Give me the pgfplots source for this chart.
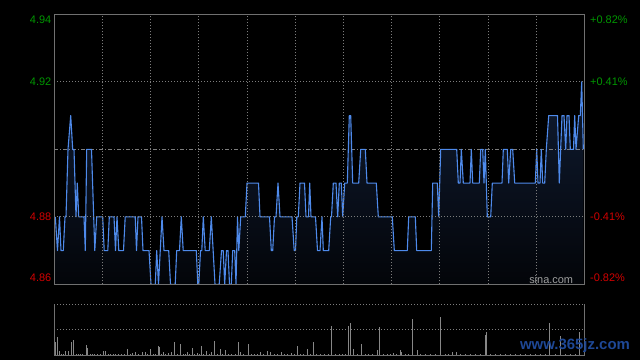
\documentclass[border=0pt]{standalone}
\usepackage{pgfplots}
\pgfplotsset{compat=1.18}
\usepackage{pgfplotstable}
\usepackage{fontspec}
\setmainfont{Liberation Sans}
\definecolor{upg}{RGB}{0,150,0}
\definecolor{dnr}{RGB}{210,0,0}
\definecolor{gridc}{RGB}{125,125,125}
\definecolor{framec}{RGB}{112,112,112}
\definecolor{linec}{RGB}{78,138,235}
\definecolor{filltop}{RGB}{16,28,50}
\definecolor{fillbot}{RGB}{3,5,9}
\definecolor{volc}{RGB}{135,135,135}
\definecolor{wmblue}{RGB}{30,72,150}

% price: x in screen position (px), converted to trading minutes in the plot
\pgfplotstableread{
px p
55.3 4.88
57.5 4.87
59.5 4.88
61 4.87
63.3 4.87
65 4.88
66 4.88
68 4.90
70.7 4.91
72.7 4.90
74 4.90
76 4.88
77.3 4.89
78.7 4.88
84 4.88
85.3 4.87
86.7 4.90
91.5 4.90
94.8 4.87
96.7 4.88
102.7 4.88
104.2 4.87
107.8 4.87
109.3 4.88
114 4.88
115.5 4.87
117 4.88
118.8 4.87
123.5 4.87
125.2 4.88
135.2 4.88
136.5 4.87
138 4.88
141.5 4.88
143 4.87
149 4.87
151 4.86
155.3 4.86
156.7 4.87
158.5 4.86
162 4.88
164 4.87
168.7 4.87
170.5 4.86
175.2 4.86
176.7 4.87
179.5 4.87
181.3 4.88
183.2 4.87
196.3 4.87
197.8 4.86
198.8 4.86
200.5 4.87
201.8 4.87
203.3 4.88
205.2 4.87
209.3 4.87
211.3 4.88
215 4.86
219.2 4.86
221.5 4.87
223.2 4.87
224.7 4.86
226.5 4.87
228 4.87
229.5 4.86
231.3 4.86
232.7 4.87
234.7 4.87
236 4.86
237.5 4.88
238.8 4.87
240.7 4.88
245.3 4.88
247 4.89
258.5 4.89
260 4.88
269.5 4.88
271.3 4.87
272.7 4.87
274.5 4.88
276 4.88
278 4.89
280 4.88
292 4.88
294.2 4.87
295.5 4.87
296.8 4.88
298.3 4.88
300 4.89
304.5 4.89
306 4.88
308.5 4.88
309.7 4.89
311 4.88
315.5 4.88
317.5 4.87
320 4.87
322 4.88
323.3 4.87
328.7 4.87
330.7 4.88
331.5 4.88
333.3 4.89
336 4.89
337.7 4.88
339.3 4.89
341.3 4.89
342.7 4.88
344.7 4.89
347.3 4.89
349.3 4.91
350.7 4.91
352.7 4.89
358.7 4.89
360.7 4.90
365.3 4.90
367 4.89
376.3 4.89
378.3 4.88
392.3 4.88
394.3 4.87
407.3 4.87
408.7 4.88
415.3 4.88
416.7 4.87
431.3 4.87
432.7 4.89
437.3 4.89
438.7 4.88
440.7 4.90
456.7 4.90
458.3 4.89
460 4.89
461.3 4.90
463.3 4.89
470 4.89
471.3 4.90
472.7 4.89
479.3 4.89
480.7 4.90
482.7 4.90
484 4.89
485.3 4.90
487.3 4.88
490.7 4.88
492.3 4.89
502 4.89
503.3 4.90
507.3 4.90
508.7 4.89
510.7 4.90
512.7 4.90
514.7 4.89
535.3 4.89
536.7 4.90
538 4.89
540 4.89
541.3 4.90
542.7 4.89
544.7 4.89
546.3 4.90
548.7 4.91
557.5 4.91
559.3 4.89
562 4.91
564 4.91
565.7 4.90
567 4.91
569 4.91
570.3 4.90
573.5 4.90
574.7 4.91
576 4.90
578.7 4.91
580.3 4.91
581.7 4.92
583.3 4.90
}\price

\pgfplotstableread{
px v
55 13.3
57.3 18
59.3 4
61 1
63 1
65.3 4
68.3 4
71.3 13
73.3 15
76 1
78 1
80 1
82 1.5
86.3 10
87.3 7
90 1
92 1
94.3 1.5
97 1
100 1
103.3 4
105.3 4
108 1
110 1
113.3 1.5
115 1
118.3 1.5
121 1
124 1
127.3 6
130 1
132.7 2
135.3 3
138 1
142.3 3
145.3 3
147 1
150.3 6
153 1
155 1
158.3 9
159.3 8
161 1
163.3 3
165 1
168.3 2
171.3 3
174.3 13
177 1
180.3 11
183 1
185 1
187.3 3
189 1
192.3 7
194 1
197.3 2
199 1
201.3 9
203 1
206.3 4
209 1
211.3 3
214.3 14
217 1
220.3 6
222 1
225.3 5
228 1
231 1
235 1
238.3 13
240.3 3
243 1
248.3 11
251 1
254 1
257 1
260.3 3
263 1
267.3 4
270.3 3
274 1
277 1
281.3 3
284 1
287 1
291.3 2
294 1
297.3 9
300 1
303 1
307.3 6
310 1
313.3 13
316 1
320 1
324 1
328 1
331.7 29
335 1
339 1
342 1
345 1
348 29
350.3 32
353.3 6
357 1
361.3 11
365 1
368 1
372 1
377.3 5
379.3 28
383 1
387 1
390 1
393.3 2
396 1
400.3 5
401.3 3
405 1
408 1
412.3 36
417.3 5
420 1
425 1
430 1
435 1
440.3 38
445 1
448 1
452.3 3
456.3 3
460 1
465 1
470 1
475 1
480 1
485.3 20
486.3 23
490 1
495 1
500 1
505 1
510 1
515 1
520 1
525 1
530 1
535 1
540 1
545 1
549.3 32
555 1
560.3 19
565 1
570 1
575 1
579.3 23
}\volume

\begin{document}
\begin{tikzpicture}[x=1bp,y=1bp]
\useasboundingbox (0,0) rectangle (640,360);
\fill[black] (0,0) rectangle (640,360);

\begin{axis}[
  at={(54.3bp,75.7bp)}, anchor=south west,
  width=530bp, height=270bp, scale only axis,
  xmin=0, xmax=330, ymin=4.86, ymax=4.94,
  xtick={30,60,...,300}, ytick={4.88,4.92},
  xticklabels={}, yticklabels={},
  major tick length=0pt,
  grid=major,
  grid style={draw=gridc, line width=0.8bp, dash pattern=on 1bp off 2bp},
  axis line style={draw=framec, line width=0.8bp},
  axis on top,
  clip=true,
]
\addplot[draw=none, top color=filltop, bottom color=fillbot]
  table[x expr=(\thisrow{px}-54.3)*0.62264, y=p] {\price} \closedcycle;
\addplot[draw=gridc, line width=0.8bp, dash pattern=on 4bp off 2bp on 1bp off 2bp]
  coordinates {(0,4.90) (330,4.90)};
\addplot[draw=linec, line width=1.1bp, line join=round]
  table[x expr=(\thisrow{px}-54.3)*0.62264, y=p] {\price};
\end{axis}

\begin{axis}[
  at={(54.3bp,5bp)}, anchor=south west,
  width=530bp, height=50.7bp, scale only axis,
  xmin=0, xmax=330, ymin=0, ymax=50.7,
  xtick=\empty, ytick=\empty,
  axis line style={draw=none},
  clip=true,
]
\addplot[ycomb, draw=volc, line width=0.9bp, mark=none]
  table[x expr=(\thisrow{px}-54.3)*0.62264, y=v] {\volume};
\end{axis}

% volume panel frame and grid
\draw[gridc, line width=0.8bp, dash pattern=on 1bp off 2bp] (54.3,55.7) -- (584.3,55.7);
\draw[gridc, line width=0.8bp, dash pattern=on 1bp off 2bp] (54.3,30.3) -- (584.3,30.3);
\draw[framec, line width=0.8bp] (54.3,55.7) -- (54.3,5) -- (584.3,5) -- (584.3,55.7);

% labels
\begin{scope}[every node/.style={font=\fontsize{11}{13}\selectfont, inner sep=0pt}]
\node[anchor=east, text=upg] at (51.5,339.8) {4.94};
\node[anchor=east, text=upg] at (51.5,278) {4.92};
\node[anchor=east, text=dnr] at (51.5,143) {4.88};
\node[anchor=east, text=dnr] at (51.5,82) {4.86};
\node[anchor=west, text=upg] at (590,339.8) {+0.82\%};
\node[anchor=west, text=upg] at (590,278) {+0.41\%};
\node[anchor=west, text=dnr] at (590,143) {-0.41\%};
\node[anchor=west, text=dnr] at (590,82) {-0.82\%};
\node[anchor=east, text=gray!75] at (573.3,80.8) {sina.com};
\end{scope}

% watermark
\node[font=\bfseries\fontsize{15}{17}\selectfont, inner sep=0pt, text=wmblue] at (575,14) {www.365jz.com};
\end{tikzpicture}
\end{document}
